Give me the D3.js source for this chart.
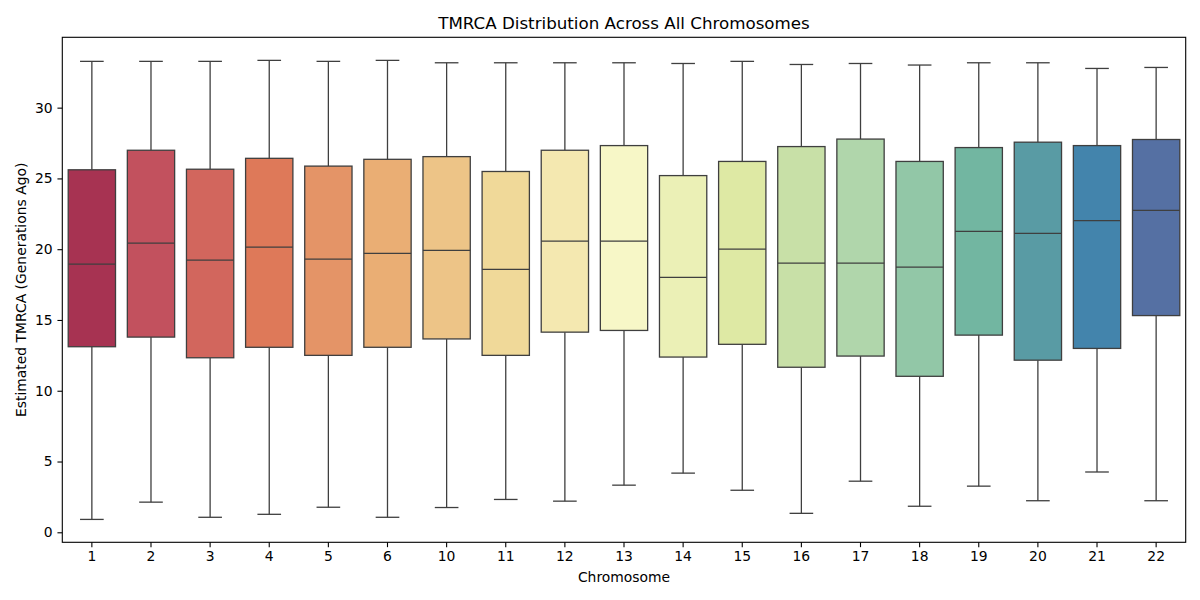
<!DOCTYPE html>
<html>
<head>
<meta charset="utf-8">
<script src="https://cdn.jsdelivr.net/npm/d3@7"></script>
<style>
  body { margin: 0; background: #fff; }
  text { font-family: "DejaVu Sans", sans-serif; fill: #000; }
</style>
</head>
<body>
<div id="chart"></div>
<script>
// chromosome labels
var chromosomes = ["1", "2", "3", "4", "5", "6", "10", "11", "12", "13", "14", "15", "16", "17", "18", "19", "20", "21", "22"];
// box stats
var whiskerLow = [0.91, 2.13, 1.06, 1.27, 1.77, 1.06, 1.75, 2.32, 2.20, 3.33, 4.18, 2.97, 1.34, 3.61, 1.84, 3.26, 2.23, 4.26, 2.23];
var q1 = [13.11, 13.79, 12.33, 13.07, 12.50, 13.07, 13.66, 12.50, 14.14, 14.26, 12.38, 13.28, 11.66, 12.45, 11.02, 13.93, 12.16, 12.99, 15.31];
var median = [18.94, 20.43, 19.23, 20.14, 19.30, 19.71, 19.92, 18.58, 20.57, 20.57, 18.01, 20.00, 19.01, 19.01, 18.73, 21.26, 21.12, 22.02, 22.74];
var q3 = [25.61, 26.99, 25.65, 26.42, 25.87, 26.35, 26.54, 25.49, 26.99, 27.32, 25.20, 26.20, 27.25, 27.78, 26.20, 27.18, 27.56, 27.32, 27.75];
var whiskerHigh = [33.27, 33.27, 33.27, 33.34, 33.27, 33.34, 33.17, 33.17, 33.17, 33.17, 33.12, 33.27, 33.05, 33.12, 33.01, 33.17, 33.17, 32.77, 32.84];
var yTicks = [0, 5, 10, 15, 20, 25, 30];

var width = 1200, height = 600;
var margin = {left: 62.3, right: 1200 - 1185.7, top: 37.3, bottom: 600 - 542.3};

var data = chromosomes.map(function (c, i) {
  return {name: c, lo: whiskerLow[i], q1: q1[i], med: median[i], q3: q3[i], hi: whiskerHigh[i]};
});

// Spectral palette sampled like seaborn, then desaturated to 0.75
var spectral = ["#9e0142", "#d53e4f", "#f46d43", "#fdae61", "#fee08b", "#ffffbf", "#e6f598", "#abdda4", "#66c2a5", "#3288bd", "#5e4fa2"];
var interp = d3.piecewise(d3.interpolateRgb, spectral);
var colors = data.map(function (d, i) {
  var c = d3.hsl(interp((i + 1) / (data.length + 1)));
  c.s *= 0.75;
  return c.formatHex();
});

var svg = d3.select("#chart").append("svg").attr("width", width).attr("height", height);

var x = d3.scaleBand().domain(chromosomes).range([margin.left, width - margin.right]).paddingInner(0).paddingOuter(0);
var y = d3.scaleLinear().domain([-0.707, 34.97]).range([height - margin.bottom, margin.top]);

var boxW = x.bandwidth() * 0.8;
var lineColor = "#3f3f3f";
var lw = 1.3;

var node = svg.selectAll(".box").data(data).enter().append("g").attr("class", "box")
  .attr("transform", function (d) { return "translate(" + (x(d.name) + x.bandwidth() / 2) + ",0)"; });

// whiskers
node.append("line").attr("x1", 0).attr("x2", 0)
  .attr("y1", function (d) { return y(d.q3); }).attr("y2", function (d) { return y(d.hi); })
  .attr("stroke", lineColor).attr("stroke-width", lw);
node.append("line").attr("x1", 0).attr("x2", 0)
  .attr("y1", function (d) { return y(d.q1); }).attr("y2", function (d) { return y(d.lo); })
  .attr("stroke", lineColor).attr("stroke-width", lw);
// caps
node.append("line").attr("x1", -boxW / 4).attr("x2", boxW / 4)
  .attr("y1", function (d) { return y(d.hi); }).attr("y2", function (d) { return y(d.hi); })
  .attr("stroke", lineColor).attr("stroke-width", lw);
node.append("line").attr("x1", -boxW / 4).attr("x2", boxW / 4)
  .attr("y1", function (d) { return y(d.lo); }).attr("y2", function (d) { return y(d.lo); })
  .attr("stroke", lineColor).attr("stroke-width", lw);
// box
node.append("rect").attr("x", -boxW / 2).attr("width", boxW)
  .attr("y", function (d) { return y(d.q3); })
  .attr("height", function (d) { return y(d.q1) - y(d.q3); })
  .attr("fill", function (d, i) { return colors[i]; })
  .attr("stroke", lineColor).attr("stroke-width", lw);
// median
node.append("line").attr("x1", -boxW / 2).attr("x2", boxW / 2)
  .attr("y1", function (d) { return y(d.med); }).attr("y2", function (d) { return y(d.med); })
  .attr("stroke", lineColor).attr("stroke-width", lw);

// axes
var tick = 4.86;
var xAxis = svg.append("g").attr("transform", "translate(0," + (height - margin.bottom) + ")")
  .call(d3.axisBottom(x).tickSize(tick).tickPadding(4.2).tickSizeOuter(0));
var yAxis = svg.append("g").attr("transform", "translate(" + margin.left + ",0)")
  .call(d3.axisLeft(y).tickValues(yTicks).tickSize(tick).tickPadding(4.86).tickSizeOuter(0));
[xAxis, yAxis].forEach(function (g) {
  g.select(".domain").remove();
  g.selectAll(".tick line").attr("stroke", "#000").attr("stroke-width", 1.1);
  g.selectAll(".tick text").attr("font-size", "13.9px").attr("font-family", "DejaVu Sans").attr("fill", "#000");
});

// frame
svg.append("rect").attr("x", margin.left).attr("y", margin.top)
  .attr("width", width - margin.left - margin.right).attr("height", height - margin.top - margin.bottom)
  .attr("fill", "none").attr("stroke", "#000").attr("stroke-width", 1.1);

// labels
svg.append("text").attr("x", (margin.left + width - margin.right) / 2).attr("y", 29)
  .attr("text-anchor", "middle").attr("font-size", "16.7px").text("TMRCA Distribution Across All Chromosomes");
svg.append("text").attr("x", (margin.left + width - margin.right) / 2).attr("y", 582)
  .attr("text-anchor", "middle").attr("font-size", "13.9px").text("Chromosome");
svg.append("text").attr("transform", "translate(25.5," + ((margin.top + height - margin.bottom) / 2) + ") rotate(-90)")
  .attr("text-anchor", "middle").attr("font-size", "13.9px").text("Estimated TMRCA (Generations Ago)");
</script>
</body>
</html>
